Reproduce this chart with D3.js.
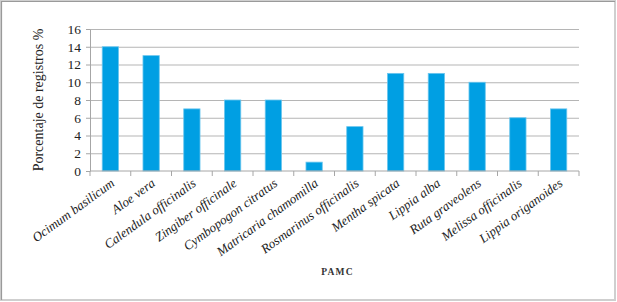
<!DOCTYPE html>
<html>
<head>
<meta charset="utf-8">
<script src="https://cdn.jsdelivr.net/npm/d3@7"></script>
<style>
  body { margin: 0; background: #fff; }
  svg { display: block; }
  .axis path, .axis line { stroke: #a6a6a6; }
  .axis text { font-family: "Liberation Serif", serif; fill: #222; }
  .grid line { stroke: #b5b5b5; }
  .grid path { display: none; }
</style>
</head>
<body>
<svg id="chart"></svg>
<script>
"use strict";
const species = ["Ocimum basilicum", "Aloe vera", "Calendula officinalis",
    "Zingiber officinale", "Cymbopogon citratus", "Matricaria chamomilla",
    "Rosmarinus officinalis", "Mentha spicata", "Lippia alba",
    "Ruta graveolens", "Melissa officinalis", "Lippia origanoides"];
const percent = [14, 13, 7, 8, 8, 1, 5, 11, 11, 10, 6, 7];
const yTicks = [0, 2, 4, 6, 8, 10, 12, 14, 16];

const W = 617, H = 302;
const margin = {top: 29, right: 38, bottom: 131, left: 90},
    width  = W - margin.left - margin.right,
    height = H - margin.top - margin.bottom;

const root = d3.select("#chart").attr("width", W).attr("height", H);

// frame
root.append("rect").attr("x", 1).attr("y", 1).attr("width", 614).attr("height", 299)
    .attr("fill", "none").attr("stroke", "#cfcfcf").attr("stroke-width", 2);
root.append("path").attr("d", "M1.5,300 V1.5 H615")
    .attr("fill", "none").attr("stroke", "#9a9a9a").attr("stroke-width", 1.2);

const svg = root.append("g")
    .attr("transform", "translate(" + margin.left + "," + margin.top + ")");

const xScale = d3.scaleBand().domain(species).range([0, width]).paddingInner(0).paddingOuter(0);
const yScale = d3.scaleLinear().domain([0, 16]).range([height, 0]);

// gridlines
svg.append("g").attr("class", "grid")
    .call(d3.axisLeft(yScale).tickValues(yTicks.slice(1)).tickSize(-width).tickFormat(""));

// bars
const barW = xScale.bandwidth() * 0.4;
svg.selectAll(".bar")
    .data(species)
  .enter().append("rect")
    .attr("class", "bar")
    .attr("x", (d) => xScale(d) + (xScale.bandwidth() - barW) / 2)
    .attr("y", (d, i) => yScale(percent[i]))
    .attr("width", barW)
    .attr("height", (d, i) => height - yScale(percent[i]))
    .attr("fill", "#009fe3")
    .attr("stroke", "#6cc6ee")
    .attr("stroke-width", 0.8);

// y axis
const yAxis = svg.append("g").attr("class", "axis")
    .call(d3.axisLeft(yScale).tickValues(yTicks).tickSize(4).tickPadding(5).tickSizeOuter(0));
yAxis.selectAll("text").style("font-size", "13.5px");

// x axis with ticks at category boundaries
const xAxis = svg.append("g").attr("class", "axis")
    .attr("transform", `translate(0, ${height})`)
    .call(d3.axisBottom(xScale).tickSize(0).tickFormat(""));
xAxis.select(".domain").attr("d", `M0,0H${width}`);
xAxis.selectAll(".sep")
    .data(d3.range(species.length + 1))
  .enter().append("line")
    .attr("class", "sep")
    .attr("x1", (i) => i * xScale.step()).attr("x2", (i) => i * xScale.step())
    .attr("y1", 0).attr("y2", 5)
    .attr("stroke", "#a6a6a6");

// rotated category labels
svg.append("g").selectAll(".lab")
    .data(species)
  .enter().append("text")
    .attr("class", "lab")
    .attr("transform", (d) => "translate(" + (xScale(d) + xScale.bandwidth() / 2 + 5) + "," + (height + 14) + ") rotate(-36)")
    .attr("text-anchor", "end")
    .style("font-family", "'Liberation Serif', serif")
    .style("font-style", "italic")
    .style("font-size", "13px")
    .style("fill", "#222")
    .text((d) => d);

// axis titles
svg.append("text")
    .attr("transform", "rotate(-90)")
    .attr("x", -height / 2)
    .attr("y", -47)
    .attr("text-anchor", "middle")
    .style("font-family", "'Liberation Serif', serif")
    .style("font-size", "14px")
    .style("fill", "#222")
    .text("Porcentaje de registros %");
svg.append("text")
    .attr("x", width / 2 + 3)
    .attr("y", height + 104)
    .attr("text-anchor", "middle")
    .style("font-family", "'Liberation Serif', serif")
    .style("font-size", "9.5px")
    .style("font-weight", "bold")
    .style("letter-spacing", "1.2px")
    .style("fill", "#333")
    .text("PAMC");
</script>
</body>
</html>
